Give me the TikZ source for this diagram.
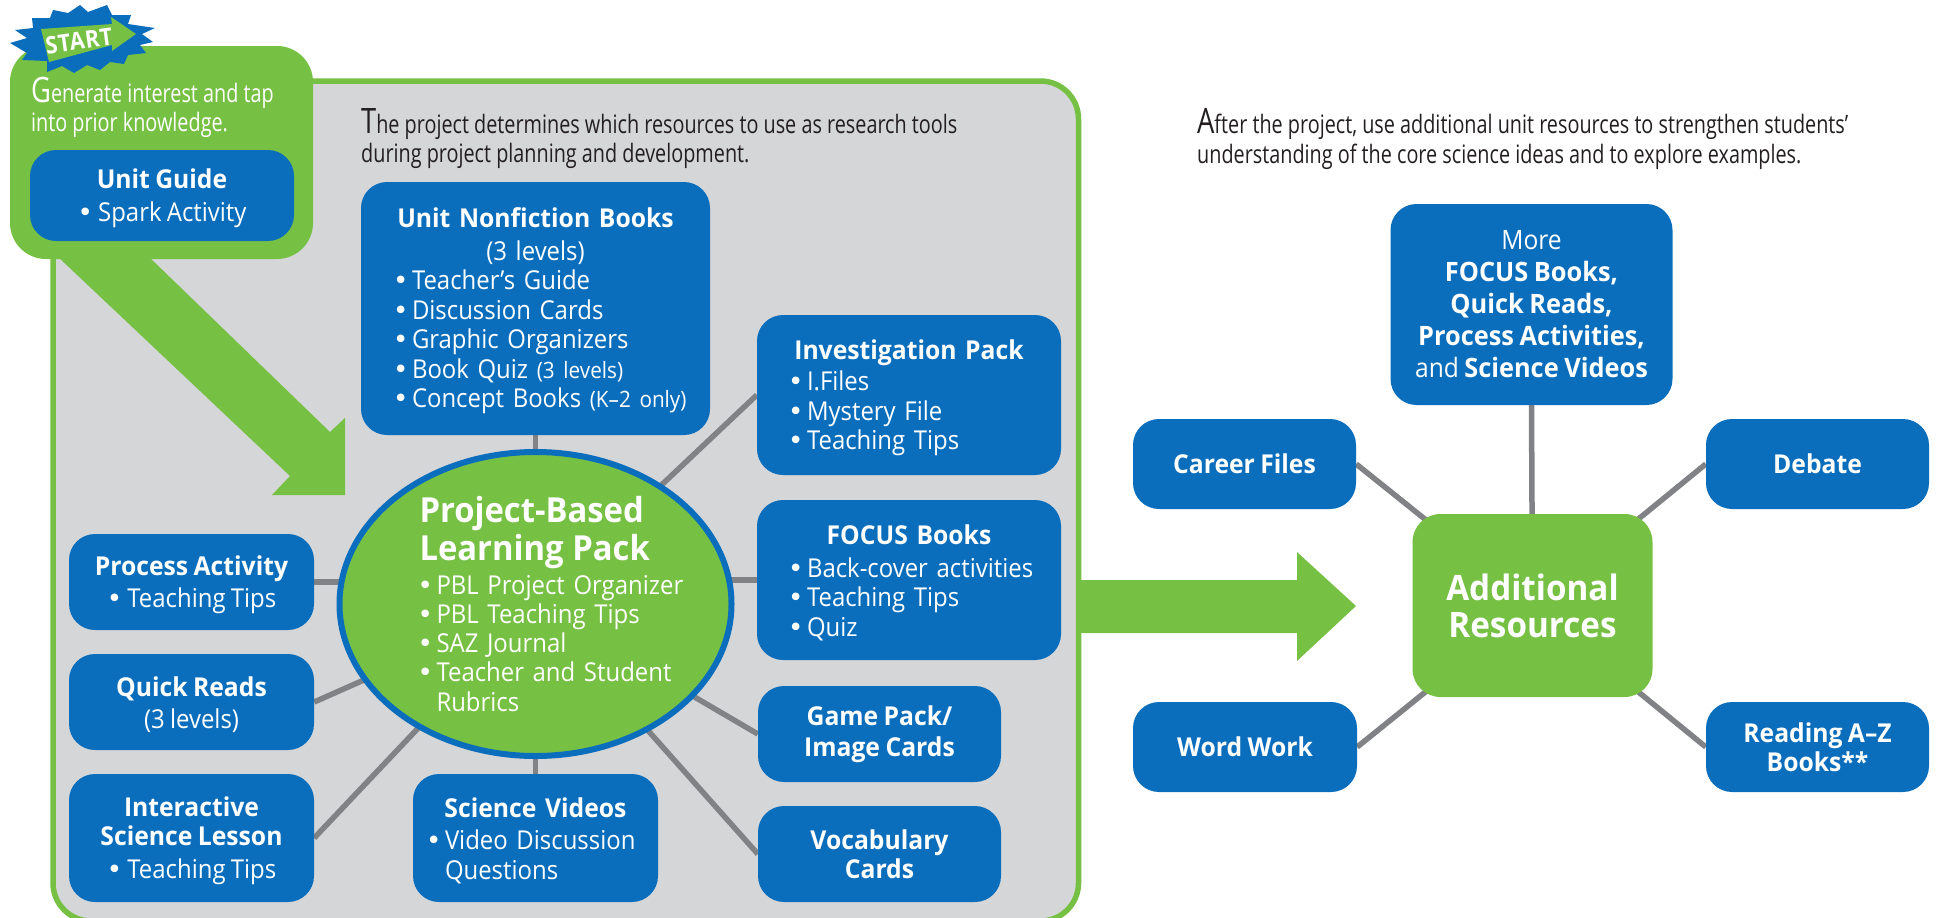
\documentclass[tikz,border=0pt]{standalone}
\usepackage{fontspec}
\usetikzlibrary{shapes.geometric}
\setmainfont{Open Sans}[UprightFeatures={FakeStretch=0.92},BoldFeatures={FakeStretch=0.95},WordSpace=0.85]
\newfontfamily\introfont{Open Sans}[FakeStretch=0.78]
\newfontfamily\startfont{Open Sans}[FakeStretch=0.9,Kerning=Off,LetterSpace=3]
\newfontfamily\bulfont{DejaVu Sans}
\definecolor{pblue}{HTML}{0B6EBD}
\definecolor{pgreen}{HTML}{76C044}
\definecolor{pgray}{HTML}{D5D6D8}
\definecolor{pline}{HTML}{808285}
\definecolor{pink}{HTML}{231F20}
\pgfdeclarelayer{panel}
\pgfdeclarelayer{spokes}
\pgfsetlayers{panel,spokes,main}
\newcommand{\dotmark}{{\bulfont •}}
\newcommand{\lift}{\rule{0pt}{25pt}}
\newcommand{\hd}[1]{\lift\makebox[\hsize][c]{\bfseries #1}}
\newcommand{\bul}[1]{\mbox{\makebox[17pt][l]{\kern-2pt\dotmark}#1}}
\newcommand{\ind}[1]{\mbox{\hspace{17pt}#1}}
\newcommand{\sml}[1]{{\fontsize{22.5}{22}\selectfont #1}}
\tikzset{
  x=1pt,y=-1pt,
  boxnode/.style={fill=pblue,rounded corners=26pt,inner sep=0pt,text=white,align=center,
    font=\fontsize{26}{29.5}\selectfont},
  listnode/.style={boxnode,align=left},
  spoke/.style={draw=pline,line width=5.5pt},
  bigarrow/.style={fill=pgreen},
  intro/.style={anchor=north west,inner sep=0pt,align=left,text=pink,
    font=\introfont\fontsize{25.4}{29.3}\selectfont}
}
\begin{document}
\begin{tikzpicture}
\useasboundingbox (0,0) rectangle (1939,918);
\clip (0,0) rectangle (1939,918);
\begin{pgfonlayer}{panel}
  \draw[fill=pgray,draw=pgreen,line width=5.5pt,rounded corners=38pt] (53,81) rectangle (1078.5,921);
\end{pgfonlayer}
% start box and its arrow
\fill[bigarrow] (56,255) -- (147,255) -- (330,432) -- (345,418) -- (345,495) -- (272,495) -- (290,476) -- cycle;
\node[fill=pgreen,rounded corners=36pt,minimum width=303pt,minimum height=213pt,inner sep=0pt] (startbox) at (161.5,152.5) {};
\node[boxnode,minimum width=264pt,minimum height=91pt] (ug) at (162,195.5) {\lift\textbf{Unit Guide}\\[3pt]\dotmark\ Spark Activity};
% burst
\fill[pblue] (53,10)--(68,13)--(80,5)--(88,12)--(107,5)--(112,15)--(131,15)--(128,24)--(155,28)--(142,34)--(153,42)--(140,45)--(146,53)--(128,55)--(124,64)--(110,62)--(100,70)--(87,65)--(74,73)--(62,66)--(47,72)--(47,61)--(22,60)--(27,53)--(10,43)--(27,38)--(15,30)--(33,28)--(32,18)--(50,18)--cycle;
\fill[pgreen] (41,29)--(112,24)--(111,17)--(136,34)--(112,51)--(112,45)--(49,62)--cycle;
\node[rotate=8,text=white,inner sep=0pt,font=\startfont\bfseries\fontsize{24}{24}\selectfont] (start) at (79,41) {START};
% intro texts
\node[intro,text=white] (gen) at (31,77) {{\fontsize{35}{29}\selectfont G}enerate interest and tap\\into prior knowledge.};
\node[intro] (proj) at (361,108.5) {{\fontsize{35}{29}\selectfont T}he project determines which resources to use as research tools\\during project planning and development.};
\node[intro] (after) at (1197,108.5) {{\fontsize{35}{29}\selectfont A}fter the project, use additional unit resources to strengthen students’\\understanding of the core science ideas and to explore examples.};
% hub 1
\node[ellipse,fill=pgreen,draw=pblue,line width=6pt,minimum width=392pt,minimum height=293pt,inner sep=0pt,text=white,align=left,text width=232pt,font=\fontsize{26}{29.3}\selectfont] (pbl) at (535.5,604)
  {{\fontsize{34.5}{38}\selectfont\bfseries Project-Based\\Learning Pack\par}\vspace{4pt}
   \bul{PBL Project Organizer}\\\bul{PBL Teaching Tips}\\\bul{SAZ Journal}\\\bul{Teacher and Student}\\\ind{Rubrics}};
% boxes around hub 1
\node[listnode,minimum width=349pt,minimum height=253pt,text width=281pt] (nf) at (535.5,308.5)
  {\hd{Unit Nonfiction Books}\\[3pt]\makebox[\hsize][c]{(3 levels)}\\\bul{Teacher’s Guide}\\\bul{Discussion Cards}\\\bul{Graphic Organizers}\\\bul{Book Quiz \sml{(3 levels)}}\\\bul{Concept Books \sml{(K–2 only)}}};
\node[listnode,minimum width=304pt,minimum height=160pt,text width=238pt] (inv) at (909,395)
  {\hd{Investigation Pack}\\[2pt]\bul{I.Files}\\\bul{Mystery File}\\\bul{Teaching Tips}};
\node[listnode,minimum width=304pt,minimum height=160pt,text width=238pt] (foc) at (909,580)
  {\hd{FOCUS Books}\\[3pt]\bul{Back-cover activities}\\\bul{Teaching Tips}\\\bul{Quiz}};
\node[boxnode,minimum width=243pt,minimum height=96pt] (game) at (879.5,734) {\textbf{Game Pack/}\\[1pt]\textbf{Image Cards}};
\node[boxnode,minimum width=243pt,minimum height=96pt] (vocab) at (879.5,854) {\textbf{Vocabulary}\\\textbf{Cards}};
\node[listnode,minimum width=245pt,minimum height=128pt,text width=215pt] (sci) at (535.5,838)
  {\hd{Science Videos}\\[3pt]\bul{Video Discussion}\\\ind{Questions}};
\node[boxnode,minimum width=245pt,minimum height=96pt] (proc) at (191.5,582) {\lift\textbf{Process Activity}\\[3pt]\dotmark\ Teaching Tips};
\node[boxnode,minimum width=245pt,minimum height=96pt] (qr) at (191.5,702) {\lift\textbf{Quick Reads}\\[3pt](3 levels)};
\node[boxnode,minimum width=245pt,minimum height=128pt] (isl) at (191.5,838) {\lift\textbf{Interactive}\\\textbf{Science Lesson}\\[3pt]\dotmark\ Teaching Tips};
% arrow between hubs
\fill[bigarrow] (1081,580) -- (1297,580) -- (1297,552) -- (1356,606) -- (1297,661) -- (1297,633) -- (1081,633) -- cycle;
% hub 2
\node[fill=pgreen,rounded corners=28pt,minimum width=240pt,minimum height=183pt,inner sep=0pt,text=white,align=center,font=\fontsize{35}{37}\selectfont\bfseries] (add) at (1532.5,605.5) {Additional\\Resources};
\node[boxnode,minimum width=282pt,minimum height=201pt,font=\fontsize{26.7}{32}\selectfont] (more) at (1531.5,304.5) {More\\\textbf{FOCUS Books,}\\\textbf{Quick Reads,}\\\textbf{Process Activities,}\\and \textbf{Science Videos}};
\node[boxnode,minimum width=223pt,minimum height=90pt] (career) at (1244.5,464) {\textbf{Career Files}};
\node[boxnode,minimum width=223pt,minimum height=90pt] (debate) at (1817.5,464) {\textbf{Debate}};
\node[boxnode,minimum width=224pt,minimum height=90pt] (word) at (1245,747) {\textbf{Word Work}};
\node[boxnode,minimum width=223pt,minimum height=90pt] (reading) at (1817.5,747) {\textbf{Reading A–Z}\\\textbf{Books**}};
% spokes
\begin{pgfonlayer}{spokes}
  \draw[spoke] (nf.south) -- (pbl.center);
  \draw[spoke] (inv.west) -- (pbl.center);
  \draw[spoke] (foc.west) -- (foc.west -| pbl.center);
  \draw[spoke] (game.west) -- (pbl.center);
  \draw[spoke] (vocab.west) -- (pbl.center);
  \draw[spoke] (sci.north) -- (pbl.center);
  \draw[spoke] (proc.east) -- (proc.east -| pbl.center);
  \draw[spoke] (qr.east) -- (pbl.center);
  \draw[spoke] (isl.east) -- (pbl.center);
  \draw[spoke] (more.south) -- (add.center);
  \draw[spoke] (career.east) -- (add.center);
  \draw[spoke] (debate.west) -- (add.center);
  \draw[spoke] (word.east) -- (add.center);
  \draw[spoke] (reading.west) -- (add.center);
\end{pgfonlayer}
\end{tikzpicture}
\end{document}
